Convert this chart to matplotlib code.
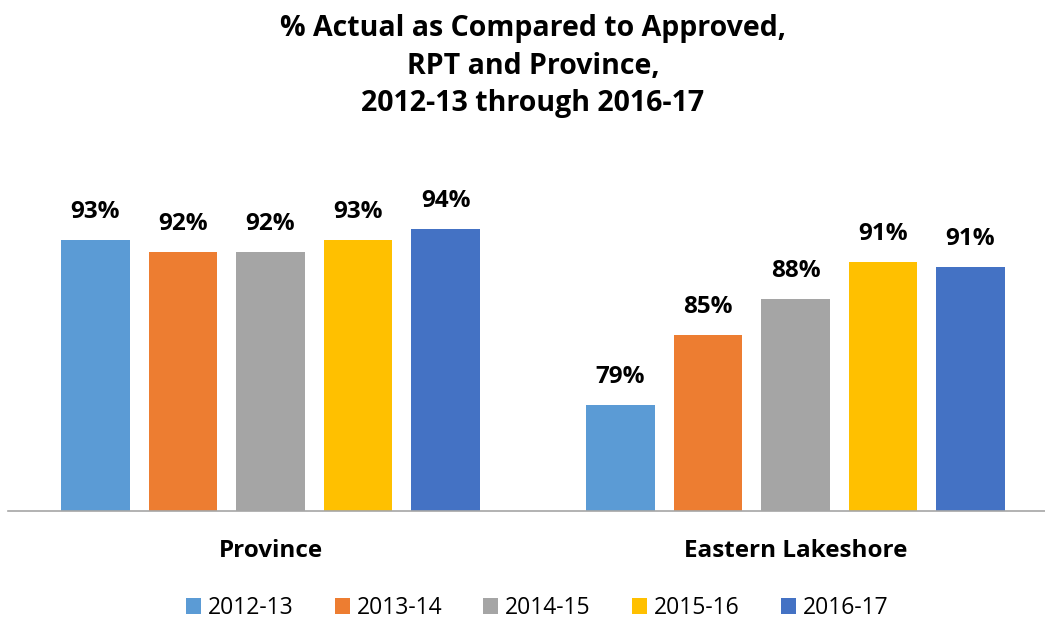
import numpy as np
from matplotlib import pyplot as plt

categories = ['Province', 'Eastern Lakeshore']
years = ['2012-13', '2013-14', '2014-15', '2015-16', '2016-17']
values = [
    [93.0, 79.0],
    [92.0, 85.0],
    [92.0, 88.0],
    [93.0, 91.2],
    [94.0, 90.7],
]
colors = ['#5B9BD5', '#ED7D31', '#A5A5A5', '#FFC000', '#4472C4']

plt.rcParams['font.family'] = ['Open Sans', 'DejaVu Sans']

fig = plt.figure(figsize=(10.45, 6.25), dpi=100)
ax = fig.add_axes([8 / 1045, 1 - 511 / 625, 1050 / 1045, (511 - 158) / 625])

x = np.arange(len(categories))
step = 0.1667
width = 0.131
for i, (yr, vals) in enumerate(zip(years, values)):
    pos = x + (i - 2) * step
    bars = ax.bar(pos, np.array(vals) - 70, width, bottom=70, color=colors[i], label=yr)
    for b, v in zip(bars, vals):
        ax.annotate(f'{v:.0f}%', (b.get_x() + b.get_width() / 2, v),
                    xytext=(0, 16), textcoords='offset pixels',
                    ha='center', va='bottom', fontsize=17.5, fontweight='bold')

ax.set_xlim(-0.5, 1.5)
ax.set_ylim(70, 100)
ax.set_yticks([])
ax.set_xticks(x)
ax.set_xticklabels(categories, fontsize=17.5, fontweight='bold')
ax.tick_params(axis='x', length=0, pad=20)
for s in ['top', 'right', 'left']:
    ax.spines[s].set_visible(False)
ax.spines['bottom'].set_color('#A6A6A6')
ax.spines['bottom'].set_linewidth(1.2)

fig.text(0.51, 0.978, '% Actual as Compared to Approved,\nRPT and Province,\n2012-13 through 2016-17',
         ha='center', va='top', fontsize=20.5, fontweight='bold', linespacing=1.4)

fig.legend(loc='center', bbox_to_anchor=(0.514, 1 - 608 / 625), ncol=5, frameon=False,
           fontsize=16.5, handlelength=0.65, handleheight=0.65, handletextpad=0.3,
           columnspacing=1.8)

fig.savefig('out.png', dpi=100)
